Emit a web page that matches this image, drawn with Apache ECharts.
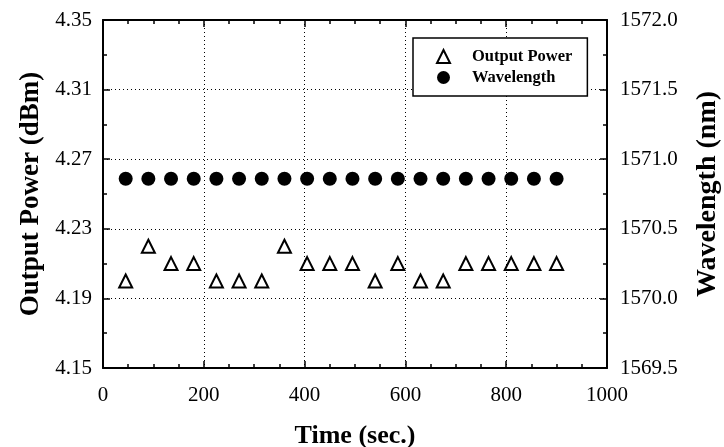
<!DOCTYPE html>
<html>
<head>
<meta charset="utf-8">
<script src="https://cdn.jsdelivr.net/npm/echarts@6/dist/echarts.min.js"></script>
<style>
html,body{margin:0;padding:0;background:#fff}
#main{width:724px;height:447px}
</style>
</head>
<body>
<div id="main"></div>
<script>
// time points (sec.)
var timeSec = [45, 90, 135, 180, 225, 270, 315, 360, 405, 450, 495, 540, 585, 630, 675, 720, 765, 810, 855, 900];
// output power (dBm), left axis
var outputPower = [4.20, 4.22, 4.21, 4.21, 4.20, 4.20, 4.20, 4.22, 4.21, 4.21, 4.21, 4.20, 4.21, 4.20, 4.20, 4.21, 4.21, 4.21, 4.21, 4.21];
// wavelength (nm), right axis
var wavelength = [1570.86, 1570.86, 1570.86, 1570.86, 1570.86, 1570.86, 1570.86, 1570.86, 1570.86, 1570.86, 1570.86, 1570.86, 1570.86, 1570.86, 1570.86, 1570.86, 1570.86, 1570.86, 1570.86, 1570.86];

var font = 'Liberation Serif';

function pairs(xs, ys){
  return xs.map(function(x, i){ return [x, ys[i]]; });
}

var chart = echarts.init(document.getElementById('main'));

var tickStyle = {show:true, inside:true, length:7, lineStyle:{color:'#000', width:1.5}};
var minorStyle = {show:true, length:4, lineStyle:{color:'#000', width:1.5}};
var lineStyle = {show:true, onZero:false, lineStyle:{color:'#000', width:2}};
function nameStyle(size){
  return {fontFamily:font, fontWeight:'bold', fontSize:size, color:'#000'};
}

var option = {
  animation:false,
  backgroundColor:'#fff',
  grid:{left:103, right:117, top:20, bottom:79, outerBoundsMode:'none', containLabel:false},
  legend:{
    orient:'vertical',
    left:413, top:38, z:10,
    itemWidth:13, itemHeight:13, itemGap:4,
    padding:[10,15,10,23],
    backgroundColor:'#fff',
    borderColor:'#000', borderWidth:1.5,
    textStyle:{fontFamily:font, fontWeight:'bold', fontSize:16.5, lineHeight:17, color:'#000',
      padding:[0,0,0,17]},
    data:['Output Power','Wavelength']
  },
  xAxis:[{
    type:'value', position:'bottom', min:0, max:1000, interval:200,
    name:'Time (sec.)', nameLocation:'middle', nameGap:55,
    nameTextStyle:nameStyle(26),
    axisLine:lineStyle, axisTick:tickStyle,
    minorTick:Object.assign({splitNumber:4}, minorStyle),
    axisLabel:{margin:17, fontFamily:font, fontSize:21, color:'#000',
      formatter:function(v){ return String(v); }},
    splitLine:{show:true, lineStyle:{color:'#000', width:1, type:[1,3]}}
  },{
    type:'value', position:'top', min:0, max:1000, interval:200,
    axisLine:lineStyle, axisTick:tickStyle,
    minorTick:Object.assign({splitNumber:4}, minorStyle),
    axisLabel:{show:false}, splitLine:{show:false}
  }],
  yAxis:[{
    type:'value', position:'left', min:4.15, max:4.35, interval:0.04,
    name:'Output Power (dBm)', nameLocation:'middle', nameGap:58, nameRotate:90,
    nameTextStyle:nameStyle(27),
    axisLine:lineStyle, axisTick:tickStyle,
    minorTick:Object.assign({splitNumber:2}, minorStyle),
    axisLabel:{margin:11, fontFamily:font, fontSize:21, color:'#000',
      formatter:function(v){ return v.toFixed(2); }},
    splitLine:{show:true, lineStyle:{color:'#000', width:1, type:[1,3]}}
  },{
    type:'value', position:'right', min:1569.5, max:1572.0, interval:0.5,
    name:'Wavelength (nm)', nameLocation:'middle', nameGap:87, nameRotate:90,
    nameTextStyle:nameStyle(28),
    axisLine:lineStyle, axisTick:tickStyle,
    minorTick:Object.assign({splitNumber:2}, minorStyle),
    axisLabel:{margin:13, fontFamily:font, fontSize:21, color:'#000',
      formatter:function(v){ return v.toFixed(1); }},
    splitLine:{show:false}
  }],
  series:[{
    name:'Output Power', type:'scatter', xAxisIndex:0, yAxisIndex:0,
    symbol:'triangle', symbolSize:13,
    itemStyle:{color:'#fff', borderColor:'#000', borderWidth:2, opacity:1},
    data:pairs(timeSec, outputPower)
  },{
    name:'Wavelength', type:'scatter', xAxisIndex:0, yAxisIndex:1,
    symbol:'circle', symbolSize:14,
    itemStyle:{color:'#000', opacity:1},
    data:pairs(timeSec, wavelength)
  }]
};

chart.setOption(option);
</script>
</body>
</html>
